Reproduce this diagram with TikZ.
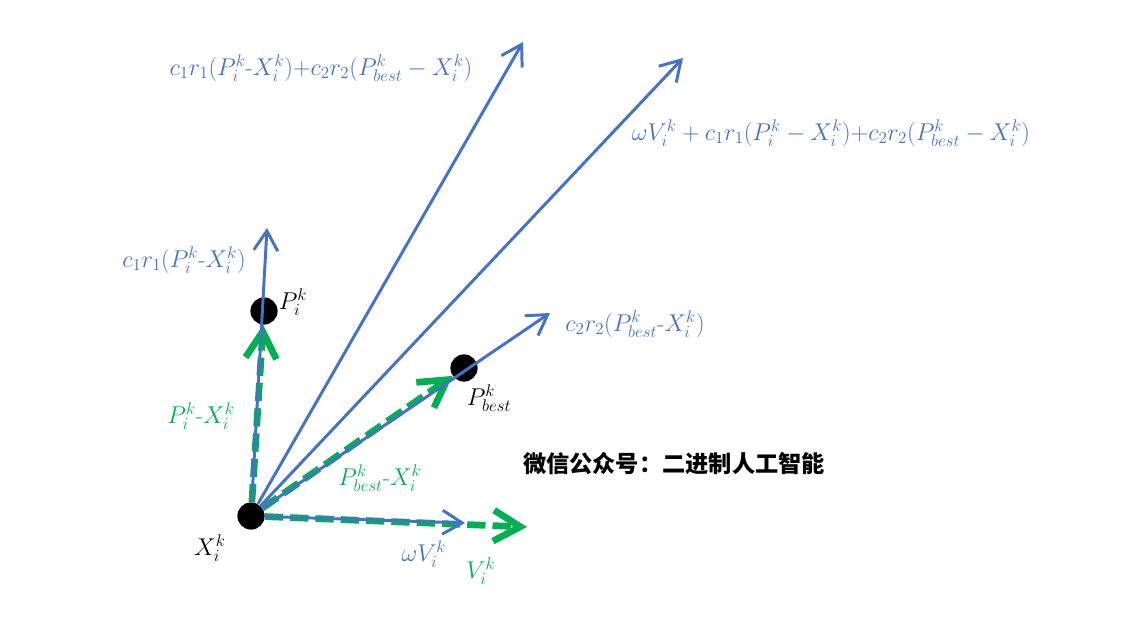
\documentclass[tikz,border=0pt]{standalone}
\usepackage{fontspec}
\newfontfamily\cjk{Noto Sans CJK SC}
\usetikzlibrary{arrows.meta}
\definecolor{vecblue}{RGB}{68,114,196}
\definecolor{vecgreen}{RGB}{0,176,80}

\begin{document}
\begin{tikzpicture}[x=0.025cm, y=-0.025cm,
        dot/.style={circle, fill=black, inner sep=0pt, minimum size=0.68cm},
        bluevec/.style={draw=vecblue, line width=2.1pt, -{Straight Barb[length=14pt, width=17pt]}},
        greenvec/.style={draw=vecgreen, line width=4.8pt, dash pattern=on 13pt off 5pt,
            -{Straight Barb[length=19pt, width=22pt]}},
        lbl/.style={font=\fontsize{17}{20}\selectfont, inner sep=0pt},
        bluelbl/.style={lbl, text=vecblue},
        greenlbl/.style={lbl, text=vecgreen}
    ]
    \useasboundingbox (0, 0) rectangle (1125, 626);

    \node[dot] (X) at (251, 516) {};
    \node[dot] (Pi) at (264, 311) {};
    \node[dot] (Pb) at (464, 368) {};

    \coordinate (Vend) at (527, 527);
    \coordinate (wVend) at (465, 523);
    \coordinate (c1end) at (267, 228);
    \coordinate (c2end) at (550, 313);
    \coordinate (sumend) at (523, 42);
    \coordinate (totend) at (683, 58);

    % green: the plain vectors
    \draw[greenvec] (X) -- (Pi);
    \draw[greenvec] (X) -- (Pb);
    \draw[greenvec] (X) -- (Vend);

    % blue: the weighted parts and their sums
    \draw[bluevec] (X) -- (wVend);
    \draw[bluevec] (X) -- (c1end);
    \draw[bluevec] (X) -- (c2end);
    \draw[bluevec] (X) -- (sumend);
    \draw[bluevec] (X) -- (totend);

    \node[lbl] (Xlbl) at (210, 548) {$X_i^k$};
    \node[lbl] (Pilbl) at (293, 302) {$P_i^k$};
    \node[lbl] (Pblbl) at (489, 398) {$P_{best}^k$};

    \node[greenlbl] (PiXlbl) at (201, 416) {$P_i^k\mbox{-}X_i^k$};
    \node[greenlbl] (PbXlbl) at (380, 478) {$P_{best}^k\mbox{-}X_i^k$};
    \node[greenlbl] (Vlbl) at (481, 571) {$V_i^k$};

    \node[bluelbl] (wVlbl) at (424, 554) {$\omega V_i^k$};
    \node[bluelbl] (c1lbl) at (184, 260) {$c_1r_1(P_i^k\mbox{-}X_i^k)$};
    \node[bluelbl] (c2lbl) at (635, 324) {$c_2r_2(P_{best}^k\mbox{-}X_i^k)$};
    \node[bluelbl] (sumlbl) at (321, 68)
        {$c_1r_1(P_i^k\mbox{-}X_i^k){+}c_2r_2(P_{best}^k - X_i^k)$};
    \node[bluelbl] (totlbl) at (831, 133)
        {$\omega V_i^k + c_1r_1(P_i^k - X_i^k){+}c_2r_2(P_{best}^k - X_i^k)$};

    \node[font=\cjk\bfseries\fontsize{16.5}{20}\selectfont, inner sep=0pt] (mark) at (674, 464)
        {微信公众号：二进制人工智能};
\end{tikzpicture}
\end{document}
